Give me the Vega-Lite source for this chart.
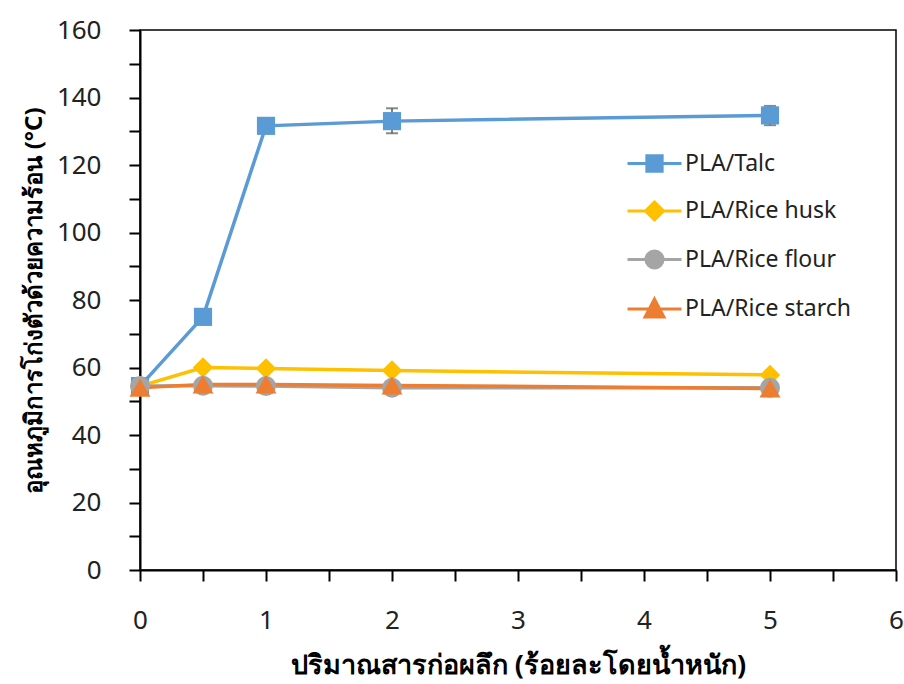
{
  "$schema": "https://vega.github.io/schema/vega-lite/v6.json",
  "width": 756,
  "height": 540,
  "autosize": "none",
  "padding": {"left": 140, "top": 30, "right": 8, "bottom": 114},
  "background": "white",
  "config": {
    "font": "Noto Sans",
    "view": {"stroke": "#000000", "strokeWidth": 1.5},
    "axis": {"domainColor": "#000000", "domainWidth": 2, "tickColor": "#000000", "tickWidth": 2, "labelColor": "#222222", "titleColor": "#000000", "grid": false}
  },
  "data": {
    "values": [
      {"series": "PLA/Talc", "x": 0, "y": 54.5},
      {"series": "PLA/Talc", "x": 0.5, "y": 75.0},
      {"series": "PLA/Talc", "x": 1, "y": 131.6},
      {"series": "PLA/Talc", "x": 2, "y": 133.0, "lo": 129.4, "hi": 136.8},
      {"series": "PLA/Talc", "x": 5, "y": 134.7, "lo": 131.8, "hi": 137.5},
      {"series": "PLA/Rice husk", "x": 0, "y": 54.5},
      {"series": "PLA/Rice husk", "x": 0.5, "y": 60.0},
      {"series": "PLA/Rice husk", "x": 1, "y": 59.7},
      {"series": "PLA/Rice husk", "x": 2, "y": 59.1},
      {"series": "PLA/Rice husk", "x": 5, "y": 57.8},
      {"series": "PLA/Rice flour", "x": 0, "y": 54.5},
      {"series": "PLA/Rice flour", "x": 0.5, "y": 54.6},
      {"series": "PLA/Rice flour", "x": 1, "y": 54.5},
      {"series": "PLA/Rice flour", "x": 2, "y": 54.0},
      {"series": "PLA/Rice flour", "x": 5, "y": 54.0},
      {"series": "PLA/Rice starch", "x": 0, "y": 54.0},
      {"series": "PLA/Rice starch", "x": 0.5, "y": 55.0},
      {"series": "PLA/Rice starch", "x": 1, "y": 55.0},
      {"series": "PLA/Rice starch", "x": 2, "y": 54.7},
      {"series": "PLA/Rice starch", "x": 5, "y": 53.8}
    ]
  },
  "encoding": {
    "x": {
      "field": "x", "type": "quantitative",
      "scale": {"domain": [0, 6], "nice": false, "zero": false},
      "axis": {
        "title": "ปริมาณสารก่อผลึก (ร้อยละโดยน้ำหนัก)",
        "values": [0, 0.5, 1, 1.5, 2, 2.5, 3, 3.5, 4, 4.5, 5, 5.5, 6],
        "labelExpr": "datum.value % 1 === 0 ? '' + datum.value : ''",
        "tickSize": 11,
        "labelFontSize": 26,
        "labelPadding": 26,
        "labelFlush": false,
        "labelOverlap": false,
        "titleFontSize": 27,
        "titleFontWeight": "bold",
        "titlePadding": 19,
        "encode": {"ticks": {"update": {"y": {"value": -10}, "y2": {"signal": "datum.value % 1 === 0 ? 11 : 0"}}}}
      }
    },
    "y": {
      "field": "y", "type": "quantitative",
      "scale": {"domain": [0, 160], "nice": false},
      "axis": {
        "title": "อุณหภูมิการโก่งตัวด้วยความร้อน  (°C)",
        "values": [0, 10, 20, 30, 40, 50, 60, 70, 80, 90, 100, 110, 120, 130, 140, 150, 160],
        "labelExpr": "datum.value % 20 === 0 ? '' + datum.value : ''",
        "tickSize": 11,
        "labelFontSize": 26,
        "labelPadding": 28,
        "labelFlush": false,
        "labelOverlap": false,
        "titleFontSize": 24,
        "titleFontWeight": "bold",
        "titlePadding": 10,
        "encode": {"ticks": {"update": {"x": {"value": 10}, "x2": {"signal": "datum.value % 20 === 0 ? -11 : 0"}}}}
      }
    },
    "color": {"field": "series", "type": "nominal",
      "scale": {"domain": ["PLA/Talc", "PLA/Rice husk", "PLA/Rice flour", "PLA/Rice starch"], "range": ["#5B9BD5", "#FFC000", "#A5A5A5", "#ED7D31"]},
      "legend": {
        "title": null,
        "orient": "none",
        "legendX": 503,
        "legendY": 122,
        "padding": 0,
        "labelFontSize": 23,
        "labelLimit": 400,
        "labelColor": "#222222",
        "labelOffset": 19,
        "symbolSize": 324,
        "rowPadding": 17.5,
        "encode": {
          "symbols": {
            "update": {
              "shape": {"signal": "datum.value === 'PLA/Talc' ? 'M-3,0H3M-0.85,-0.85H0.85V0.85H-0.85Z' : datum.value === 'PLA/Rice husk' ? 'M-3,0H3M0,-1L1,0L0,1L-1,0Z' : datum.value === 'PLA/Rice flour' ? 'M-3,0H3M-0.95,0A0.95,0.95 0 1,0 0.95,0A0.95,0.95 0 1,0 -0.95,0Z' : 'M-3,0H3M0,-1.1L1.05,0.9L-1.05,0.9Z'"},
              "stroke": {"scale": "color", "field": "value"},
              "fill": {"scale": "color", "field": "value"},
              "strokeWidth": {"value": 3},
              "opacity": {"value": 1},
              "fillOpacity": {"value": 1},
              "strokeOpacity": {"value": 1}
            }
          }
        }
      }
    }
  },
  "layer": [
    {
      "mark": {"type": "line", "strokeWidth": 3.5}
    },
    {
      "transform": [{"filter": "datum.hi != null"}],
      "mark": {"type": "rule", "strokeWidth": 1.5},
      "encoding": {"y": {"field": "lo", "type": "quantitative"}, "y2": {"field": "hi"}, "color": {"value": "#595959"}}
    },
    {
      "transform": [{"filter": "datum.hi != null"}],
      "mark": {"type": "tick", "orient": "horizontal", "size": 12, "thickness": 2},
      "encoding": {"y": {"field": "lo", "type": "quantitative"}, "color": {"value": "#595959"}}
    },
    {
      "transform": [{"filter": "datum.hi != null"}],
      "mark": {"type": "tick", "orient": "horizontal", "size": 12, "thickness": 2},
      "encoding": {"y": {"field": "hi", "type": "quantitative"}, "color": {"value": "#595959"}}
    },
    {
      "transform": [{"filter": "datum.series === 'PLA/Talc'"}],
      "mark": {"type": "point", "filled": true, "opacity": 1, "shape": "square", "size": 330}
    },
    {
      "transform": [{"filter": "datum.series === 'PLA/Rice husk'"}],
      "mark": {"type": "point", "filled": true, "opacity": 1, "shape": "diamond", "size": 420}
    },
    {
      "transform": [{"filter": "datum.series === 'PLA/Rice flour'"}],
      "mark": {"type": "point", "filled": true, "opacity": 1, "shape": "circle", "size": 400}
    },
    {
      "transform": [{"filter": "datum.series === 'PLA/Rice starch'"}],
      "mark": {"type": "point", "filled": true, "opacity": 1, "shape": "triangle-up", "size": 440}
    }
  ]
}
